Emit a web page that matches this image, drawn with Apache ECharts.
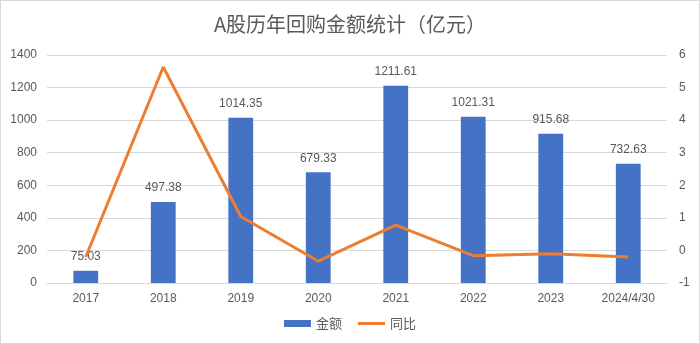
<!DOCTYPE html>
<html>
<head>
<meta charset="utf-8">
<script src="https://cdn.jsdelivr.net/npm/echarts@6/dist/echarts.min.js"></script>
<style>
  html, body { margin: 0; padding: 0; background: #fff; }
  #chart { width: 698px; height: 342px; border: 1px solid #d9d9d9; }
</style>
</head>
<body>
<div id="chart"></div>
<script>
// Yearly buyback amounts (100 million yuan) and year-over-year change
const categories = ['2017', '2018', '2019', '2020', '2021', '2022', '2023', '2024/4/30'];
const amounts = [75.03, 497.38, 1014.35, 679.33, 1211.61, 1021.31, 915.68, 732.63];
const yoy = [-0.2, 5.63, 1.04, -0.33, 0.78, -0.16, -0.1, -0.2];

const FONT = '"Liberation Sans", "Noto Sans CJK SC", sans-serif';
const CJK = '"Noto Sans CJK SC", sans-serif';
const GREY = '#595959';

// thin bar in the middle of a 27x7 box, used as the line legend marker
const LINE_ICON = 'path://M0,0 M0,2 L27,2 L27,5 L0,5 Z M27,7';

const chart = echarts.init(document.getElementById('chart'));
chart.setOption({
  animation: false,
  textStyle: { fontFamily: FONT },
  title: {
    text: 'A股历年回购金额统计（亿元）',
    left: 'center',
    top: 8,
    textStyle: { fontFamily: CJK, fontSize: 20, fontWeight: 'normal', color: GREY }
  },
  legend: {
    bottom: 8,
    itemGap: 16,
    itemWidth: 27,
    itemHeight: 7,
    textStyle: { fontFamily: CJK, fontSize: 13, color: GREY },
    data: [
      { name: '金额', icon: 'rect' },
      { name: '同比', icon: LINE_ICON, itemStyle: { color: '#ED7D31', borderWidth: 0 } }
    ]
  },
  grid: { left: 46, right: 32, top: 54, bottom: 60 },
  xAxis: {
    type: 'category',
    data: categories,
    axisTick: { show: false },
    axisLine: { lineStyle: { color: '#d9d9d9' } },
    axisLabel: { color: GREY, fontSize: 12, margin: 10, interval: 0, fontFamily: FONT }
  },
  yAxis: [
    {
      type: 'value', min: 0, max: 1400, interval: 200,
      axisLabel: { color: GREY, fontSize: 12, margin: 10, fontFamily: FONT, formatter: v => String(v) },
      splitLine: { lineStyle: { color: '#d9d9d9' } }
    },
    {
      type: 'value', min: -1, max: 6, interval: 1,
      axisLabel: { color: GREY, fontSize: 12, margin: 12, fontFamily: FONT, formatter: v => String(v) },
      splitLine: { show: false }
    }
  ],
  series: [
    {
      name: '金额',
      type: 'bar',
      data: amounts,
      barWidth: '32%',
      itemStyle: { color: '#4472C4' },
      label: { show: true, position: 'top', distance: 8, color: GREY, fontSize: 12, fontFamily: FONT }
    },
    {
      name: '同比',
      type: 'line',
      yAxisIndex: 1,
      data: yoy,
      symbol: 'none',
      lineStyle: { color: '#ED7D31', width: 3 },
      itemStyle: { color: '#ED7D31' }
    }
  ]
});
</script>
</body>
</html>
